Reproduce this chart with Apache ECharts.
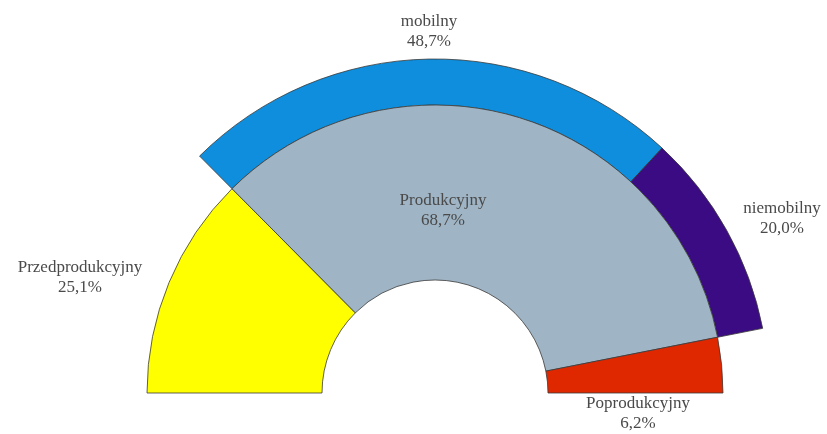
<!DOCTYPE html>
<html>
<head>
<meta charset="utf-8">
<script src="https://cdn.jsdelivr.net/npm/echarts@6/dist/echarts.min.js"></script>
<style>
html,body{margin:0;padding:0;background:#fff;}
#chart{width:827px;height:434px;}
</style>
</head>
<body>
<div id="chart"></div>
<script>
// Data
var innerNames = ['Przedprodukcyjny', 'Produkcyjny', 'Poprodukcyjny'];
var innerValues = [25.1, 68.7, 6.2];
var outerNames = ['mobilny', 'niemobilny'];
var outerValues = [48.7, 20.0];

// Styles
var innerColors = ['#FFFF00', '#9FB4C4', '#E02800'];
var outerColors = ['#0E8EDC', '#3A0B82'];
var innerLabelPos = [[80, 278], [443, 211], [638, 414]];
var outerLabelPos = [[429, 32], [782, 219]];

function fmt(v) { return v.toFixed(1).replace('.', ',') + '%'; }

var labelStyle = {
  fontFamily: 'Liberation Serif',
  fontSize: 17,
  color: '#4a4a4a',
  lineHeight: 20,
  align: 'center',
  overflow: 'none',
  width: 200
};

var innerData = innerNames.map(function (n, i) {
  return { name: n, value: innerValues[i], itemStyle: { color: innerColors[i] } };
});

var outerData = [{ name: '_pre', value: innerValues[0], itemStyle: { color: 'transparent', borderWidth: 0 }, label: { show: false } }];
outerNames.forEach(function (n, i) {
  outerData.push({ name: n, value: outerValues[i], itemStyle: { color: outerColors[i] } });
});
outerData.push({ name: '_post', value: innerValues[2], itemStyle: { color: 'transparent', borderWidth: 0 }, label: { show: false } });

var chart = echarts.init(document.getElementById('chart'), null, { renderer: 'canvas' });
chart.setOption({
  animation: false,
  backgroundColor: '#fff',
  series: [
    {
      type: 'pie',
      center: [435, 393],
      radius: [288, 334],
      startAngle: 180,
      endAngle: 0,
      clockwise: true,
      silent: true,
      z: 1,
      data: outerData,
      itemStyle: { borderColor: '#3a3a3a', borderWidth: 0.8 },
      label: Object.assign({ show: true, formatter: function (p) { return p.name + '\n' + fmt(p.value); } }, labelStyle),
      labelLine: { show: false },
      labelLayout: function (params) {
        var idx = params.dataIndex - 1;
        var pos = outerLabelPos[idx] || [0, 0];
        return { x: pos[0], y: pos[1], align: 'center', verticalAlign: 'middle' };
      }
    },
    {
      type: 'pie',
      center: [435, 393],
      radius: [113, 288],
      startAngle: 180,
      endAngle: 0,
      clockwise: true,
      silent: true,
      z: 2,
      data: innerData,
      itemStyle: { borderColor: '#3a3a3a', borderWidth: 0.8 },
      label: Object.assign({ show: true, formatter: function (p) { return p.name + '\n' + fmt(p.value); } }, labelStyle),
      labelLine: { show: false },
      labelLayout: function (params) {
        var pos = innerLabelPos[params.dataIndex];
        return { x: pos[0], y: pos[1], align: 'center', verticalAlign: 'middle' };
      }
    }
  ]
});
</script>
</body>
</html>
